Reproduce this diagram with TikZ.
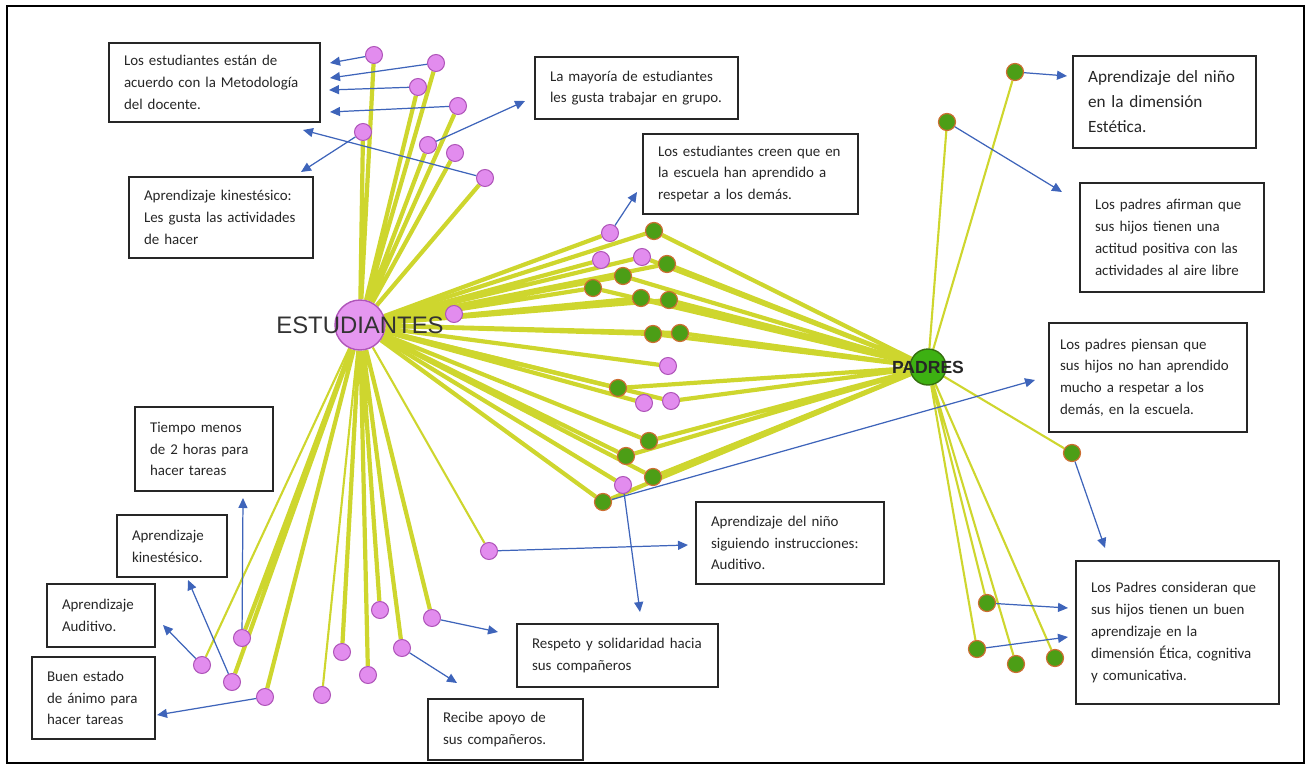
\documentclass[tikz,border=0pt]{standalone}
\usepackage{fontspec}
\setmainfont{Carlito}
\newfontfamily\arialf{Liberation Sans}
\usetikzlibrary{arrows.meta,backgrounds}
\definecolor{amarillo}{RGB}{206,214,46}
\definecolor{rosa}{RGB}{226,140,238}
\definecolor{rosaborde}{RGB}{175,85,185}
\definecolor{verde}{RGB}{76,158,22}
\definecolor{verdeborde}{RGB}{205,110,50}
\definecolor{azul}{RGB}{62,100,186}

\begin{document}
\begin{tikzpicture}[x=0.02cm,y=-0.02cm,
	caja/.style={draw=black!85,line width=0.8pt,align=left,inner xsep=0.3cm,inner ysep=0pt,font=\fontsize{8.5}{12.4}\selectfont,text=black!85},
	rosanodo/.style={circle,fill=rosa,draw=rosaborde,line width=0.6pt,minimum size=0.34cm,inner sep=0pt},
	verdenodo/.style={circle,fill=verde,draw=verdeborde,line width=0.7pt,minimum size=0.34cm,inner sep=0pt},
	gruesa/.style={amarillo,line width=2.4pt},
	fina/.style={amarillo,line width=1.2pt},
	flecha/.style={azul,line width=0.7pt,-{Triangle[length=0.2cm,width=0.18cm]}}]
	\useasboundingbox (0,0) rectangle (1311,767);
	\draw[line width=1pt] (7,6) rectangle (1304,763);

	% nodos centrales
	\node[circle,fill=rosa!90!white,draw=rosaborde,line width=0.8pt,minimum size=1cm,inner sep=0pt,
		label={[font=\arialf\fontsize{13.6}{14}\selectfont,text=black!80]center:ESTUDIANTES}] (est) at (360,325) {};
	\node[circle,fill=verde!80!green,draw=verde!70!black,line width=0.8pt,minimum size=0.72cm,inner sep=0pt,
		label={[font=\arialf\bfseries\fontsize{10}{12}\selectfont,text=black!85]center:PADRES}] (pad) at (928,367) {};

	% estudiantes arriba
	\node[rosanodo] (p1) at (374,55) {};
	\node[rosanodo] (p2) at (436,63) {};
	\node[rosanodo] (p3) at (418,87) {};
	\node[rosanodo] (p4) at (458,106) {};
	\node[rosanodo] (p5) at (363,132) {};
	\node[rosanodo] (p6) at (428,145) {};
	\node[rosanodo] (p7) at (455,153) {};
	\node[rosanodo] (p8) at (485,178) {};

	% grupo del centro
	\node[rosanodo] (c1) at (610,233) {};
	\node[verdenodo] (g1) at (654,231) {};
	\node[rosanodo] (c2) at (601,260) {};
	\node[rosanodo] (c3) at (642,257) {};
	\node[verdenodo] (g2) at (667,264) {};
	\node[verdenodo] (g3) at (623,276) {};
	\node[verdenodo] (g4) at (593,288) {};
	\node[verdenodo] (g5) at (641,298) {};
	\node[verdenodo] (g6) at (669,300) {};
	\node[verdenodo] (g7) at (653,334) {};
	\node[verdenodo] (g8) at (680,333) {};
	\node[rosanodo] (c4) at (454,314) {};
	\node[rosanodo] (c5) at (668,366) {};
	\node[verdenodo] (g9) at (618,388) {};
	\node[rosanodo] (c6) at (644,403) {};
	\node[rosanodo] (c7) at (671,401) {};
	\node[verdenodo] (g10) at (649,441) {};
	\node[verdenodo] (g11) at (626,456) {};
	\node[verdenodo] (g12) at (653,477) {};
	\node[rosanodo] (c8) at (623,485) {};
	\node[verdenodo] (g13) at (603,502) {};

	% estudiantes abajo
	\node[rosanodo] (b1) at (202,665) {};
	\node[rosanodo] (b2) at (232,682) {};
	\node[rosanodo] (b3) at (242,638) {};
	\node[rosanodo] (b4) at (265,697) {};
	\node[rosanodo] (b5) at (322,695) {};
	\node[rosanodo] (b6) at (342,652) {};
	\node[rosanodo] (b7) at (368,675) {};
	\node[rosanodo] (b8) at (380,610) {};
	\node[rosanodo] (b9) at (402,648) {};
	\node[rosanodo] (b10) at (432,618) {};
	\node[rosanodo] (d1) at (489,551) {};

	% padres
	\node[verdenodo] (t1) at (1015,72) {};
	\node[verdenodo] (t2) at (947,122) {};
	\node[verdenodo] (n1) at (1072,453) {};
	\node[verdenodo] (r1) at (987,603) {};
	\node[verdenodo] (r2) at (977,649) {};
	\node[verdenodo] (r3) at (1016,664) {};
	\node[verdenodo] (r4) at (1055,658) {};

	\begin{scope}[on background layer]
	\draw[gruesa] (est) -- (p1) (est) -- (p2) (est) -- (p3) (est) -- (p4) (est) -- (p5) (est) -- (p6) (est) -- (p7) (est) -- (p8);
	\draw[gruesa] (est) -- (c1) (est) -- (c2) (est) -- (c3) (est) -- (c4) (est) -- (c5) (est) -- (c6) (est) -- (c7) (est) -- (c8);
	\draw[gruesa] (est) -- (g1) (est) -- (g2) (est) -- (g3) (est) -- (g4) (est) -- (g5) (est) -- (g6) (est) -- (g7);
	\draw[gruesa] (est) -- (g8) (est) -- (g9) (est) -- (g10) (est) -- (g11) (est) -- (g12) (est) -- (g13);
	\draw[gruesa] (est) -- (b2) (est) -- (b3) (est) -- (b4) (est) -- (b6) (est) -- (b7) (est) -- (b8) (est) -- (b9) (est) -- (b10);
	\draw[fina] (est) -- (b1) (est) -- (b5) (est) -- (d1);
	\draw[gruesa] (pad) -- (g1) (pad) -- (g2) (pad) -- (g3) (pad) -- (g4) (pad) -- (g5) (pad) -- (g6) (pad) -- (g7);
	\draw[gruesa] (pad) -- (g8) (pad) -- (g9) (pad) -- (g10) (pad) -- (g11) (pad) -- (g12) (pad) -- (g13) (pad) -- (c7) (pad) -- (c3);
	\draw[fina] (pad) -- (t1) (pad) -- (t2) (pad) -- (n1) (pad) -- (r1) (pad) -- (r2) (pad) -- (r3) (pad) -- (r4);
	\end{scope}

	% cuadros de texto
	\node[caja,text width=3.62cm,minimum height=1.58cm] (met) at (214.5,82.5) {Los estudiantes están de\\acuerdo con la Metodología\\del docente.};
	\node[caja,text width=3.08cm,minimum height=1.62cm] (kin1) at (221,217.5) {Aprendizaje kinestésico:\\Les gusta las actividades\\de hacer};
	\node[caja,text width=3.46cm,minimum height=1.24cm] (grupo) at (636.5,88) {La mayoría de estudiantes\\les gusta trabajar en grupo.};
	\node[caja,text width=3.70cm,minimum height=1.60cm] (creen) at (750.5,174) {Los estudiantes creen que en\\la escuela han aprendido a\\respetar a los demás.};
	\node[caja,text width=3.06cm,minimum height=1.84cm,font=\fontsize{9.8}{14.2}\selectfont] (estetica) at (1164.5,102) {Aprendizaje del niño\\en la dimensión\\Estética.};
	\node[caja,text width=3.08cm,minimum height=2.18cm] (aire) at (1172,237.5) {Los padres afirman que\\sus hijos tienen una\\actitud positiva con las\\actividades al aire libre};
	\node[caja,inner xsep=0.22cm,text width=3.52cm,minimum height=2.18cm] (piensan) at (1148,377.5) {Los padres piensan que\\sus hijos no han aprendido\\mucho a respetar a los\\demás, en la escuela.};
	\node[caja,text width=3.46cm,minimum height=2.86cm] (consideran) at (1177.5,632.5) {Los Padres consideran que\\sus hijos tienen un buen\\aprendizaje en la\\dimensión Ética, cognitiva\\y comunicativa.};
	\node[caja,text width=3.16cm,minimum height=1.64cm] (siguiendo) at (790,543) {Aprendizaje del niño\\siguiendo instrucciones:\\Auditivo.};
	\node[caja,text width=3.42cm,minimum height=1.26cm] (solid) at (617.5,655.5) {Respeto y solidaridad hacia\\sus compañeros};
	\node[caja,text width=2.50cm,minimum height=1.22cm] (apoyo) at (505.5,729.5) {Recibe apoyo de\\sus compañeros.};
	\node[caja,text width=2.16cm,minimum height=1.68cm] (tiempo) at (204,449) {Tiempo menos\\de 2 horas para\\hacer tareas};
	\node[caja,text width=1.60cm,minimum height=1.24cm] (kin2) at (172,546) {Aprendizaje\\kinestésico.};
	\node[caja,text width=1.56cm,minimum height=1.26cm] (audi) at (101,615.5) {Aprendizaje\\Auditivo.};
	\node[caja,text width=1.86cm,minimum height=1.64cm] (animo) at (93.5,698) {Buen estado\\de ánimo para\\hacer tareas};

	% puntas de flecha
	\coordinate (a1) at (330,63);
	\coordinate (a2) at (330,78);
	\coordinate (a3) at (329,90);
	\coordinate (a4) at (330,112);
	\coordinate (a5) at (303,130);
	\coordinate (a6) at (301,172);
	\coordinate (a7) at (525,101);
	\coordinate (a8) at (637,192);
	\coordinate (a9) at (1067,76);
	\coordinate (a10) at (1062,192);
	\coordinate (a11) at (1035,380);
	\coordinate (a12) at (1105,548);
	\coordinate (a13) at (1068,608);
	\coordinate (a14) at (1068,637);
	\coordinate (a15) at (688,545);
	\coordinate (a16) at (640,612);
	\coordinate (a17) at (498,632);
	\coordinate (a18) at (457,683);
	\coordinate (a19) at (243,498);
	\coordinate (a20) at (188,580);
	\coordinate (a21) at (163,625);
	\coordinate (a22) at (157,715);

	\draw[flecha] (p1) -- (a1);
	\draw[flecha] (p2) -- (a2);
	\draw[flecha] (p3) -- (a3);
	\draw[flecha] (p4) -- (a4);
	\draw[flecha] (p8) -- (a5);
	\draw[flecha] (p5) -- (a6);
	\draw[flecha] (p6) -- (a7);
	\draw[flecha] (c1) -- (a8);
	\draw[flecha] (t1) -- (a9);
	\draw[flecha] (t2) -- (a10);
	\draw[flecha] (g13) -- (a11);
	\draw[flecha] (n1) -- (a12);
	\draw[flecha] (r1) -- (a13);
	\draw[flecha] (r2) -- (a14);
	\draw[flecha] (d1) -- (a15);
	\draw[flecha] (c8) -- (a16);
	\draw[flecha] (b10) -- (a17);
	\draw[flecha] (b9) -- (a18);
	\draw[flecha] (b3) -- (a19);
	\draw[flecha] (b2) -- (a20);
	\draw[flecha] (b1) -- (a21);
	\draw[flecha] (b4) -- (a22);
\end{tikzpicture}
\end{document}
